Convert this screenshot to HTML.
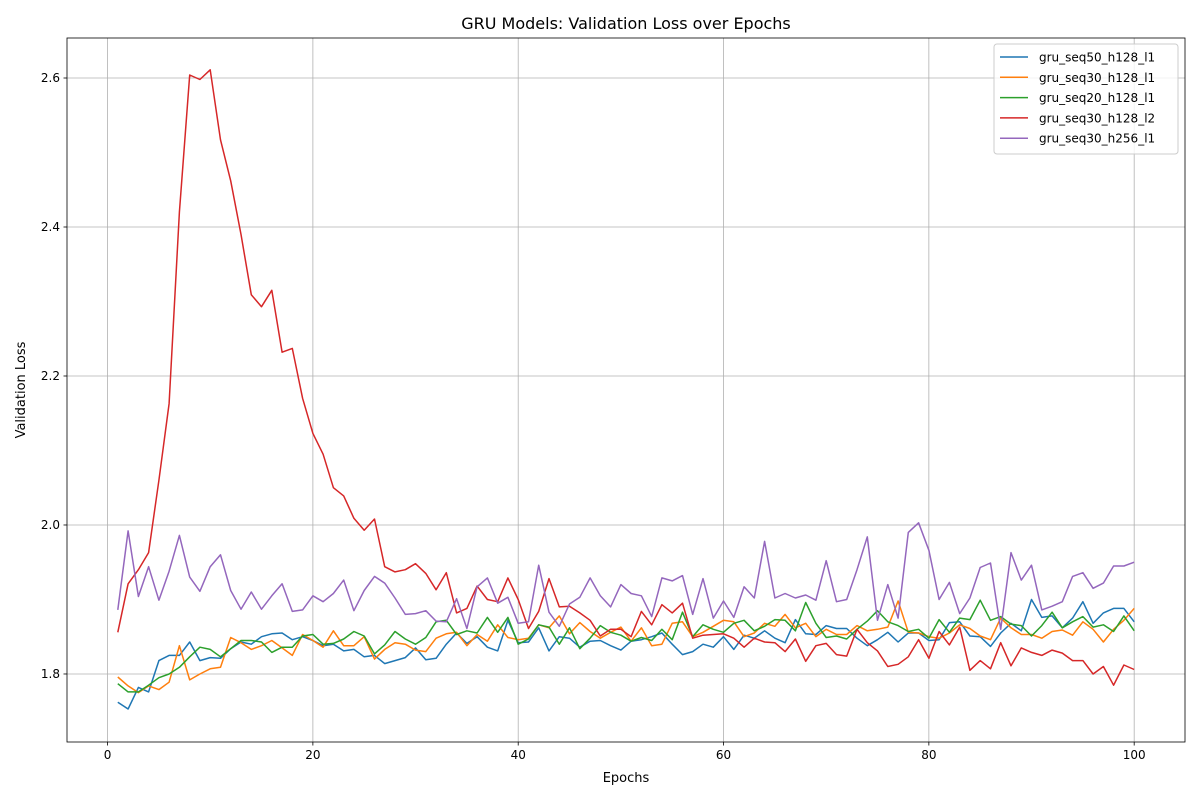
<!DOCTYPE html>
<html><head><meta charset="utf-8"><style>
body{margin:0;background:#fff;font-family:"Liberation Sans","DejaVu Sans",sans-serif}
svg text{font-family:"DejaVu Sans","Liberation Sans",sans-serif}
</style></head><body>
<svg id="chart" width="1200" height="800" xmlns="http://www.w3.org/2000/svg">
<rect x="0" y="0" width="1200" height="800" fill="#fff"/>
<text x="626" y="29" font-size="16" text-anchor="middle">GRU Models: Validation Loss over Epochs</text>
<g id="grid"></g><g id="series"></g><g id="axes"></g><g id="legend"></g>
</svg>
<script>
const seriesNames=["gru_seq50_h128_l1","gru_seq30_h128_l1","gru_seq20_h128_l1","gru_seq30_h128_l2","gru_seq30_h256_l1"];
const colors=["#1f77b4","#ff7f0e","#2ca02c","#d62728","#9467bd"];
const xTicks=[0,20,40,60,80,100];
const yTicks=[1.8,2.0,2.2,2.4,2.6];
const blue=[1.762,1.753,1.782,1.776,1.818,1.825,1.825,1.843,1.818,1.822,1.821,1.834,1.843,1.84,1.85,1.854,1.855,1.846,1.85,1.845,1.838,1.84,1.831,1.833,1.823,1.825,1.814,1.818,1.822,1.835,1.819,1.821,1.84,1.855,1.841,1.85,1.836,1.831,1.872,1.842,1.843,1.862,1.831,1.85,1.848,1.836,1.844,1.845,1.838,1.832,1.844,1.846,1.85,1.855,1.84,1.826,1.83,1.84,1.836,1.85,1.833,1.852,1.848,1.858,1.848,1.842,1.873,1.854,1.853,1.865,1.861,1.861,1.848,1.838,1.846,1.856,1.843,1.855,1.855,1.845,1.846,1.869,1.87,1.851,1.85,1.837,1.855,1.868,1.858,1.9,1.876,1.878,1.862,1.875,1.897,1.868,1.882,1.888,1.888,1.87];
const orange=[1.796,1.784,1.775,1.784,1.779,1.789,1.838,1.792,1.80,1.807,1.809,1.849,1.842,1.833,1.838,1.845,1.835,1.825,1.853,1.845,1.836,1.858,1.838,1.838,1.85,1.82,1.833,1.842,1.84,1.832,1.83,1.848,1.854,1.856,1.838,1.853,1.844,1.866,1.849,1.846,1.848,1.866,1.862,1.878,1.854,1.869,1.857,1.848,1.856,1.863,1.844,1.862,1.838,1.84,1.868,1.87,1.85,1.856,1.864,1.872,1.87,1.85,1.855,1.868,1.864,1.88,1.862,1.868,1.85,1.86,1.853,1.853,1.865,1.858,1.86,1.863,1.898,1.856,1.855,1.85,1.848,1.855,1.866,1.861,1.851,1.846,1.875,1.862,1.853,1.853,1.848,1.857,1.859,1.852,1.87,1.86,1.843,1.86,1.872,1.888];
const green=[1.787,1.776,1.776,1.785,1.795,1.8,1.809,1.823,1.836,1.833,1.823,1.834,1.845,1.845,1.843,1.829,1.836,1.836,1.851,1.853,1.84,1.841,1.847,1.857,1.851,1.827,1.839,1.857,1.847,1.84,1.849,1.87,1.872,1.853,1.858,1.855,1.876,1.856,1.876,1.84,1.847,1.866,1.863,1.84,1.862,1.834,1.848,1.865,1.856,1.852,1.844,1.849,1.845,1.86,1.846,1.883,1.85,1.866,1.86,1.856,1.868,1.872,1.858,1.864,1.873,1.872,1.858,1.896,1.868,1.849,1.851,1.847,1.86,1.871,1.885,1.87,1.865,1.857,1.86,1.848,1.873,1.856,1.875,1.873,1.899,1.872,1.877,1.867,1.865,1.851,1.865,1.883,1.862,1.87,1.877,1.863,1.866,1.857,1.878,1.858];
const red=[1.856,1.921,1.94,1.963,2.06,2.163,2.42,2.604,2.598,2.611,2.517,2.462,2.39,2.309,2.293,2.315,2.232,2.237,2.17,2.123,2.095,2.05,2.039,2.009,1.993,2.008,1.944,1.937,1.94,1.948,1.935,1.913,1.936,1.882,1.888,1.918,1.90,1.897,1.929,1.90,1.861,1.884,1.928,1.89,1.891,1.882,1.872,1.851,1.86,1.86,1.85,1.884,1.866,1.893,1.882,1.895,1.848,1.852,1.853,1.854,1.848,1.836,1.848,1.843,1.842,1.83,1.847,1.817,1.838,1.841,1.826,1.824,1.86,1.842,1.831,1.81,1.813,1.823,1.846,1.821,1.857,1.839,1.863,1.805,1.818,1.807,1.842,1.811,1.835,1.829,1.825,1.832,1.828,1.818,1.818,1.800,1.81,1.785,1.812,1.806];
const purple=[1.886,1.992,1.904,1.944,1.899,1.938,1.986,1.93,1.911,1.944,1.96,1.912,1.887,1.91,1.887,1.905,1.921,1.884,1.886,1.905,1.897,1.908,1.926,1.885,1.912,1.931,1.922,1.902,1.88,1.881,1.885,1.871,1.87,1.901,1.861,1.917,1.929,1.895,1.903,1.868,1.87,1.946,1.883,1.864,1.894,1.903,1.929,1.905,1.89,1.92,1.908,1.905,1.877,1.929,1.925,1.932,1.88,1.928,1.875,1.898,1.876,1.917,1.902,1.978,1.902,1.908,1.902,1.906,1.899,1.952,1.897,1.90,1.94,1.984,1.872,1.92,1.875,1.99,2.003,1.966,1.90,1.923,1.881,1.902,1.943,1.949,1.86,1.963,1.926,1.946,1.886,1.891,1.897,1.931,1.936,1.915,1.922,1.945,1.945,1.95];
const allSeries=[blue,orange,green,red,purple];

const L=67,R=1185,T=38,B=742;
const xMin=-3.95,xMax=104.95,yMin=1.7087,yMax=2.6537;
function xs(v){return L+(v-xMin)/(xMax-xMin)*(R-L);}
function ys(v){return B-(v-yMin)/(yMax-yMin)*(B-T);}
const NS="http://www.w3.org/2000/svg";
function mk(tag,attrs,parent){const e=document.createElementNS(NS,tag);for(const k in attrs)e.setAttribute(k,attrs[k]);parent.appendChild(e);return e;}
const grid=document.getElementById('grid'),axes=document.getElementById('axes'),ser=document.getElementById('series'),leg=document.getElementById('legend');
xTicks.forEach(t=>{const x=xs(t);
 const g=mk('line',{x1:x,x2:x,y1:T,y2:B,stroke:'#b0b0b0','stroke-width':0.8},grid);
 
 
 mk('line',{x1:x,x2:x,y1:B,y2:B+3.5,stroke:'#000','stroke-width':0.8},axes);
 const tx=mk('text',{x:x,y:B+17,'font-size':12,'text-anchor':'middle'},axes);tx.textContent=t;
 
 
});
yTicks.forEach(t=>{const y=ys(t);
 const g=mk('line',{x1:L,x2:R,y1:y,y2:y,stroke:'#b0b0b0','stroke-width':0.8},grid);
 
 
 mk('line',{x1:L-3.5,x2:L,y1:y,y2:y,stroke:'#000','stroke-width':0.8},axes);
 const tx=mk('text',{x:L-7,y:y+4,'font-size':12,'text-anchor':'end'},axes);tx.textContent=t.toFixed(1);
 
 
});
const fr=mk('rect',{x:L,y:T,width:R-L,height:B-T,fill:'none',stroke:'#000','stroke-width':0.8},axes);


const xl=mk('text',{x:(L+R)/2,y:782,'font-size':13,'text-anchor':'middle'},axes);xl.textContent='Epochs';


const yl=mk('text',{x:0,y:0,'font-size':13,'text-anchor':'middle',transform:`translate(25,${(T+B)/2}) rotate(-90)`},axes);yl.textContent='Validation Loss';


allSeries.forEach((arr,i)=>{
 const pts=arr.map((v,j)=>xs(j+1).toFixed(1)+','+ys(v).toFixed(1)).join(' ');
 const p=mk('polyline',{points:pts,fill:'none',stroke:colors[i],'stroke-width':1.5,'stroke-linejoin':'round'},ser);
 
 
});
const lb=mk('rect',{x:994,y:44,width:184,height:110,rx:3,fill:'#fff','fill-opacity':0.8,stroke:'#ccc','stroke-width':1},leg);


seriesNames.forEach((n,i)=>{const y=57+i*20.3;
 const l=mk('line',{x1:1000,x2:1028,y1:y,y2:y,stroke:colors[i],'stroke-width':1.5},leg);
 
 
 const t=mk('text',{x:1039,y:y+4.5,'font-size':12},leg);t.textContent=n;
 
 
});
</script>
</body></html>
